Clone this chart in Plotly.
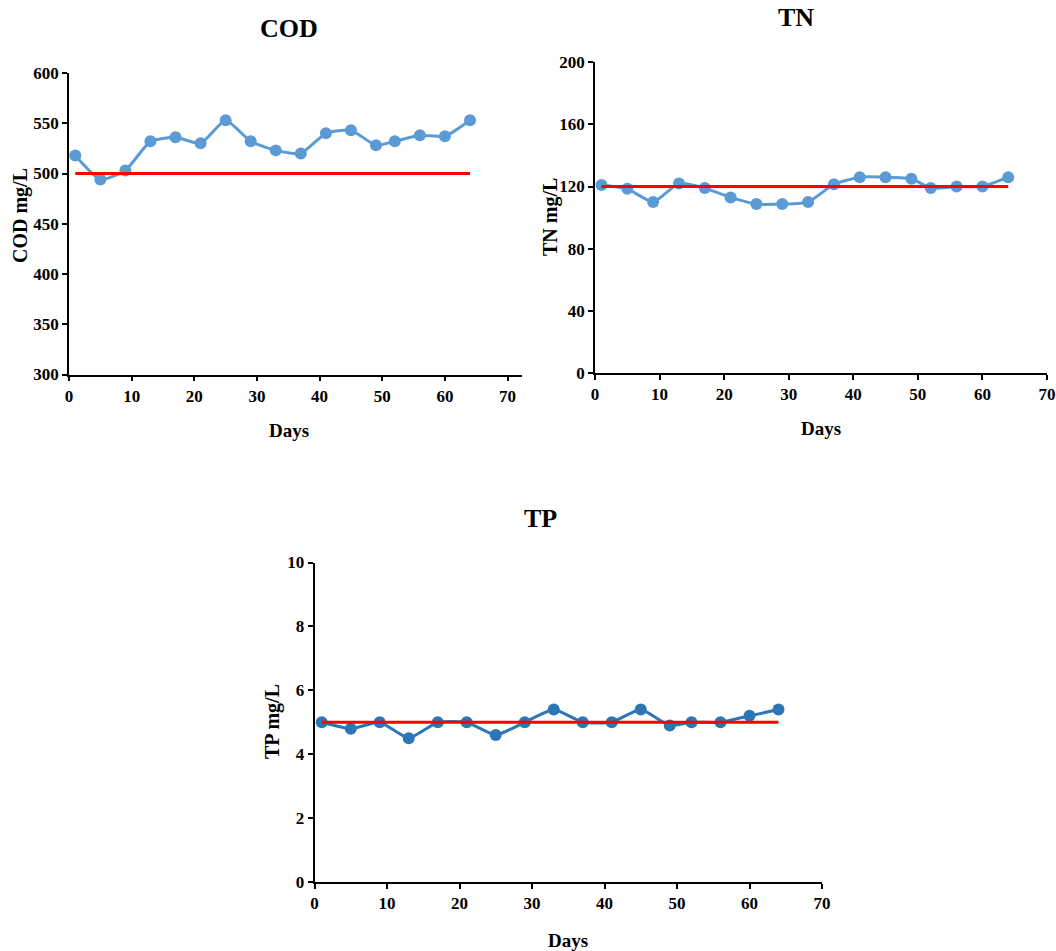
import plotly.graph_objects as go

days = [1, 5, 9, 13, 17, 21, 25, 29, 33, 37, 41, 45, 49, 52, 56, 60, 64]
cod = [518, 494, 503, 532, 536, 530, 553, 532, 523, 520, 540, 543, 528, 532, 538, 537, 553]
tn = [121, 118.5, 110, 122, 119, 113, 108.7, 108.7, 110, 121.5, 126, 126, 125, 119, 120, 120, 126]
tp = [5.0, 4.8, 5.0, 4.5, 5.0, 5.0, 4.6, 5.0, 5.4, 5.0, 5.0, 5.4, 4.9, 5.0, 5.0, 5.2, 5.4]
cod_std = 500
tn_std = 120
tp_std = 5

W, H = 1056, 951
FONT = "Liberation Serif, Times New Roman, serif"

def xd(a, b):
    return [a / W, b / W]

def yd(top, bottom):
    return [1 - bottom / H, 1 - top / H]

fig = go.Figure()

panels = [
    dict(y=cod, std=cod_std, color="#5B9BD5", xa="x", ya="y"),
    dict(y=tn, std=tn_std, color="#5B9BD5", xa="x2", ya="y2"),
    dict(y=tp, std=tp_std, color="#2E75B6", xa="x3", ya="y3"),
]
for p in panels:
    fig.add_trace(go.Scatter(
        x=days, y=p["y"], mode="lines+markers",
        line=dict(color=p["color"], width=3, shape="spline", smoothing=0.5),
        marker=dict(color=p["color"], size=12),
        xaxis=p["xa"], yaxis=p["ya"], showlegend=False))
    fig.add_trace(go.Scatter(
        x=[days[0], days[-1]], y=[p["std"], p["std"]], mode="lines",
        line=dict(color="#FF0000", width=3),
        xaxis=p["xa"], yaxis=p["ya"], showlegend=False))

tickfont = dict(family=FONT, size=17, color="black", weight="bold")
axcommon = dict(showline=True, linecolor="black", linewidth=1.5, ticks="outside",
                ticklen=5, tickwidth=1.5, tickcolor="black", showgrid=False,
                zeroline=False, tickfont=tickfont, automargin=False)

fig.update_layout(
    template="none",
    width=W, height=H, margin=dict(l=0, r=0, t=0, b=0, pad=0),
    plot_bgcolor="white", paper_bgcolor="white",
    font=dict(family=FONT, color="black"),
    xaxis=dict(domain=xd(69, 522), range=[0, 72.3], dtick=10, anchor="y", **axcommon),
    yaxis=dict(domain=yd(73, 374.5), range=[300, 600], dtick=50, anchor="x", **axcommon),
    xaxis2=dict(domain=xd(595, 1047), range=[0, 70], dtick=10, anchor="y2", **axcommon),
    yaxis2=dict(domain=yd(62, 373.3), range=[0, 200], dtick=40, anchor="x2", **axcommon),
    xaxis3=dict(domain=xd(314.5, 822), range=[0, 70], dtick=10, anchor="y3", **axcommon),
    yaxis3=dict(domain=yd(562.5, 882), range=[0, 10], dtick=2, anchor="x3", **axcommon),
)

def ann(text, x, y, size, angle=0):
    fig.add_annotation(text="<b>%s</b>" % text, x=x / W, y=1 - y / H, xref="paper", yref="paper",
                       showarrow=False, textangle=angle, xanchor="center", yanchor="middle",
                       font=dict(family=FONT, size=size, color="black"))

ann("COD", 289, 28, 26)
ann("TN", 796, 17, 26)
ann("TP", 540, 518, 26)
ann("Days", 289, 430, 19)
ann("Days", 821, 428, 19)
ann("Days", 568, 940, 19)
ann("COD mg/L", 20, 216, 20, -90)
ann("TN mg/L", 550, 217, 20, -90)
ann("TP mg/L", 272, 722, 20, -90)

fig.write_html("out.html")
